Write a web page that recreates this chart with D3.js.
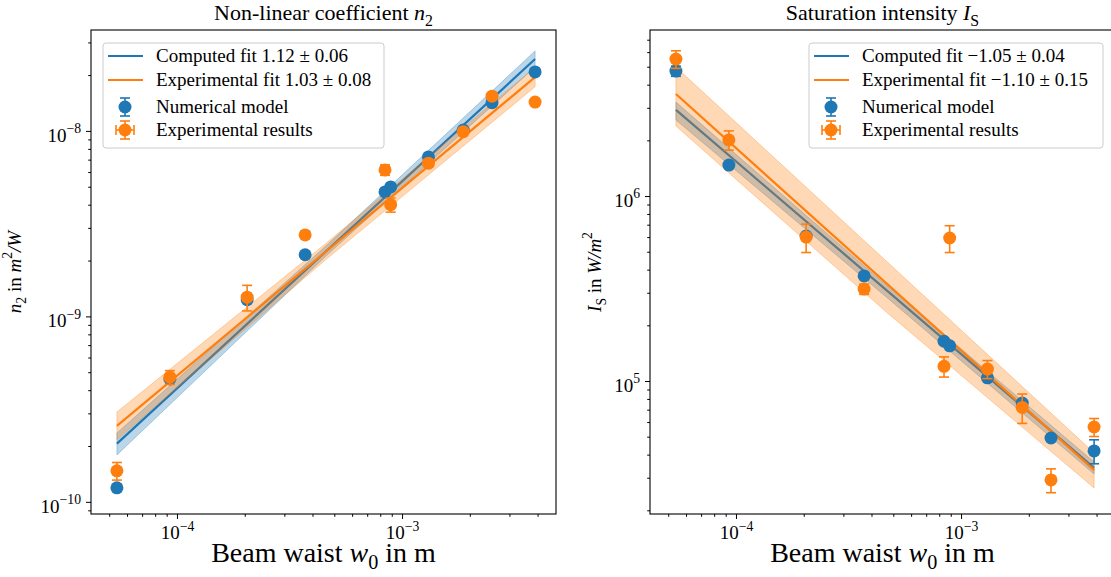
<!DOCTYPE html>
<html>
<head>
<meta charset="utf-8">
<script src="https://cdn.jsdelivr.net/npm/d3@7"></script>
<style>
body { margin: 0; background: #fff; }
text { font-family: "Liberation Serif", "DejaVu Serif", serif; fill: #000; }
</style>
</head>
<body>
<svg width="1111" height="577"></svg>
<script>
// beam waist (m), shared by both panels
var w0 = [5.41e-5, 9.3e-5, 2.05e-4, 3.71e-4, 8.4e-4, 8.9e-4, 1.31e-3, 1.87e-3, 2.51e-3, 3.9e-3];

// non-linear coefficient n2
var n2Num    = [1.19e-10, 4.6e-10, 1.23e-9, 2.15e-9, 4.69e-9, 4.99e-9, 7.24e-9, 1.01e-8, 1.42e-8, 2.08e-8];
var n2NumErr = [0.05e-10, 0.1e-10, 0.3e-10, 0.4e-10, 0.8e-10, 0.8e-10, 1e-10, 1.5e-10, 2e-10, 3e-10];
var n2Exp    = [1.47e-10, 4.7e-10, 1.27e-9, 2.75e-9, 6.16e-9, 4.0e-9, 6.7e-9, 9.9e-9, 1.54e-8, 1.43e-8];
var n2ExpErr = [0.16e-10, 0.4e-10, 0.2e-9, 0.12e-9, 0.4e-9, 0.35e-9, 0.3e-9, 0.4e-9, 0.6e-9, 0.5e-9];

// saturation intensity Is
var isNum    = [4.74e6, 1.47e6, 6.08e5, 3.7e5, 1.64e5, 1.55e5, 1.04e5, 7.6e4, 4.92e4, 4.19e4];
var isNumErr = [0.3e6, 0.05e6, 0.15e5, 0.1e5, 0.04e5, 0.04e5, 0.03e5, 0.3e4, 0.15e4, 0.62e4];
var isExp    = [5.5e6, 2.01e6, 6.0e5, 3.14e5, 1.2e5, 5.93e5, 1.16e5, 7.2e4, 2.92e4, 5.64e4];
var isExpErr = [0.6e6, 0.24e6, 1.05e5, 0.2e5, 0.15e5, 0.98e5, 0.13e5, 1.3e4, 0.43e4, 0.63e4];

// fit lines (ends) and confidence bands (start, middle, end)
var fitEnds = [5.41e-5, 3.9e-3];
var bandW   = [5.41e-5, 4.6e-4, 3.9e-3];

var n2FitComp = [2.06e-10, 2.44e-8];
var n2FitExp  = [2.57e-10, 1.95e-8];
var n2BandCompLo = [1.79e-10, 2.12e-9, 2.21e-8];
var n2BandCompHi = [2.35e-10, 2.40e-9, 2.70e-8];
var n2BandExpLo  = [2.16e-10, 2.03e-9, 1.73e-8];
var n2BandExpHi  = [3.05e-10, 2.48e-9, 2.21e-8];

var isFitComp = [2.92e6, 3.39e4];
var isFitExp  = [3.56e6, 3.30e4];
var isBandCompLo = [2.58e6, 2.88e5, 3.14e4];
var isBandCompHi = [3.22e6, 3.34e5, 3.65e4];
var isBandExpLo  = [2.39e6, 2.39e5, 2.64e4];
var isBandExpHi  = [4.98e6, 4.51e5, 4.09e4];

var blue = "#1f77b4", orange = "#ff7f0e";
var svg = d3.select("svg");
var panelTop = 30, pw = 465, ph = 484;
var wDomain = [4.15e-5, 4.83e-3];

// text with italic / sub / sup parts
function rich(t, parts, fs) {
  var shift = 0;
  parts.forEach(function(p) {
    var s = t.append("tspan").text(p[0]);
    var want = p[1] == "sub" ? 0.25 * fs : (p[1] == "sup" ? -0.45 * fs : 0);
    if (want != shift) { s.attr("dy", want - shift); shift = want; }
    if (p[1] == "i") s.style("font-style", "italic");
    if (p[1] == "sub" || p[1] == "sup") s.attr("font-size", fs * 0.72);
  });
  return t;
}

function errbar(g, y, cx, v, e, col) {
  var y1 = y(v - e), y2 = y(v + e);
  g.append("line").attr("x1", cx).attr("x2", cx).attr("y1", y1).attr("y2", y2)
    .attr("stroke", col).attr("stroke-width", 1.6);
  [y1, y2].forEach(function(yy) {
    g.append("line").attr("x1", cx - 5).attr("x2", cx + 5).attr("y1", yy).attr("y2", yy)
      .attr("stroke", col).attr("stroke-width", 1.6);
  });
}

function drawPanel(p) {
  var g = svg.append("g").attr("transform", "translate(" + p.left + "," + panelTop + ")");
  var x = d3.scaleLog().domain(wDomain).range([0, pw]);
  var y = d3.scaleLog().domain(p.yDomain).range([ph, 0]);

  var area = d3.area().x(function(d) { return x(d[0]); })
    .y0(function(d) { return y(d[1]); }).y1(function(d) { return y(d[2]); });
  var line = d3.line().x(function(d) { return x(d[0]); }).y(function(d) { return y(d[1]); });

  [[p.bandCompLo, p.bandCompHi, p.fitComp, blue], [p.bandExpLo, p.bandExpHi, p.fitExp, orange]].forEach(function(s) {
    g.append("path").datum(bandW.map(function(w, i) { return [w, s[0][i], s[1][i]]; }))
      .attr("d", area).attr("fill", s[3]).attr("fill-opacity", 0.3)
      .attr("stroke", s[3]).attr("stroke-opacity", 0.3).attr("stroke-width", 1);
    g.append("path").datum(fitEnds.map(function(w, i) { return [w, s[2][i]]; }))
      .attr("d", line).attr("fill", "none").attr("stroke", s[3]).attr("stroke-width", 2.2);
  });

  [[p.num, p.numErr, blue], [p.exp, p.expErr, orange]].forEach(function(s) {
    w0.forEach(function(w, i) {
      errbar(g, y, x(w), s[0][i], s[1][i], s[2]);
      g.append("circle").attr("cx", x(w)).attr("cy", y(s[0][i])).attr("r", 6.5).attr("fill", s[2]);
    });
  });

  // frame
  g.append("rect").attr("width", pw).attr("height", ph).attr("fill", "none")
    .attr("stroke", "#000").attr("stroke-width", 1.1);

  // axes
  function isMajor(v) { return Math.abs(Math.log10(v) - Math.round(Math.log10(v))) < 1e-6; }
  function decLabel(sel) {
    sel.selectAll(".tick text").each(function(d) {
      var e = Math.round(Math.log10(d));
      var t = d3.select(this).text(null);
      rich(t, [["10", ""], [(e < 0 ? "\u2212" : "") + Math.abs(e), "sup"]], 19);
    });
  }
  var xt = x.ticks(), yt = y.ticks();
  g.append("g").attr("transform", "translate(0," + ph + ")")
    .call(d3.axisBottom(x).tickValues(xt.filter(function(v) { return !isMajor(v); })).tickSize(2.8).tickFormat(""));
  var gx = g.append("g").attr("transform", "translate(0," + ph + ")")
    .call(d3.axisBottom(x).tickValues(xt.filter(isMajor)).tickSize(5).tickPadding(7));
  decLabel(gx);
  g.append("g").call(d3.axisLeft(y).tickValues(yt.filter(function(v) { return !isMajor(v); })).tickSize(2.8).tickFormat(""));
  var gy = g.append("g").call(d3.axisLeft(y).tickValues(yt.filter(isMajor)).tickSize(5).tickPadding(5));
  decLabel(gy);
  g.selectAll(".domain").remove();
  g.selectAll(".tick line").attr("stroke", "#000").attr("stroke-width", 1);
  g.selectAll(".tick text").attr("font-size", 19).attr("font-family", "Liberation Serif");
  gy.selectAll(".tick text").attr("dy", "0.55em");

  // title and labels
  rich(g.append("text").attr("x", pw / 2).attr("y", -10).attr("text-anchor", "middle").attr("font-size", 22), p.title, 22);
  rich(g.append("text").attr("x", pw / 2).attr("y", ph + 48).attr("text-anchor", "middle").attr("font-size", 28),
    [["Beam waist ", ""], ["w", "i"], ["0", "sub"], [" in m", ""]], 28);
  rich(g.append("text").attr("transform", "translate(" + p.yLabelX + "," + ph / 2 + ") rotate(-90)")
    .attr("text-anchor", "middle").attr("font-size", 19), p.yLabel, 19);

  // legend
  var lg = g.append("g").attr("transform", "translate(" + p.legX + ",13)");
  lg.append("rect").attr("width", p.legW).attr("height", 105).attr("rx", 3)
    .attr("fill", "#fff").attr("fill-opacity", 0.8).attr("stroke", "#ccc").attr("stroke-width", 1);
  var rows = [13, 37, 64, 87];
  [[blue, p.legComp], [orange, p.legExp]].forEach(function(s, i) {
    lg.append("line").attr("x1", 5).attr("x2", 40).attr("y1", rows[i]).attr("y2", rows[i])
      .attr("stroke", s[0]).attr("stroke-width", 2.2);
    rich(lg.append("text").attr("x", 53).attr("y", rows[i] + 6).attr("font-size", 19), s[1], 19);
  });
  var ly = d3.scaleLinear().domain([-1, 1]).range([9, -9]);
  [[blue, "Numerical model", false], [orange, "Experimental results", true]].forEach(function(s, i) {
    var mg = lg.append("g").attr("transform", "translate(0," + rows[i + 2] + ")");
    errbar(mg, ly, 22, 0, 1, s[0]);
    if (s[2]) {
      mg.append("line").attr("x1", 13).attr("x2", 31).attr("stroke", s[0]).attr("stroke-width", 1.6);
      [13, 31].forEach(function(xx) {
        mg.append("line").attr("x1", xx).attr("x2", xx).attr("y1", -5).attr("y2", 5)
          .attr("stroke", s[0]).attr("stroke-width", 1.6);
      });
    }
    mg.append("circle").attr("cx", 22).attr("r", 6.5).attr("fill", s[0]);
    lg.append("text").attr("x", 53).attr("y", rows[i + 2] + 6).attr("font-size", 19).text(s[1]);
  });
}

drawPanel({
  left: 91, yDomain: [8.6e-11, 3.5e-8],
  num: n2Num, numErr: n2NumErr, exp: n2Exp, expErr: n2ExpErr,
  fitComp: n2FitComp, fitExp: n2FitExp,
  bandCompLo: n2BandCompLo, bandCompHi: n2BandCompHi, bandExpLo: n2BandExpLo, bandExpHi: n2BandExpHi,
  title: [["Non-linear coefficient ", ""], ["n", "i"], ["2", "sub"]],
  yLabel: [["n", "i"], ["2", "sub"], [" in ", ""], ["m", "i"], ["2", "sup"], ["/W", "i"]],
  yLabelX: -70, legX: 12, legW: 281,
  legComp: [["Computed fit 1.12 \u00b1 0.06", ""]],
  legExp: [["Experimental fit 1.03 \u00b1 0.08", ""]]
});

drawPanel({
  left: 650, yDomain: [1.91e4, 7.9e6],
  num: isNum, numErr: isNumErr, exp: isExp, expErr: isExpErr,
  fitComp: isFitComp, fitExp: isFitExp,
  bandCompLo: isBandCompLo, bandCompHi: isBandCompHi, bandExpLo: isBandExpLo, bandExpHi: isBandExpHi,
  title: [["Saturation intensity ", ""], ["I", "i"], ["S", "sub"]],
  yLabel: [["I", "i"], ["S", "sub"], [" in ", ""], ["W/m", "i"], ["2", "sup"]],
  yLabelX: -49, legX: 159, legW: 294,
  legComp: [["Computed fit \u22121.05 \u00b1 0.04", ""]],
  legExp: [["Experimental fit \u22121.10 \u00b1 0.15", ""]]
});
</script>
</body>
</html>
